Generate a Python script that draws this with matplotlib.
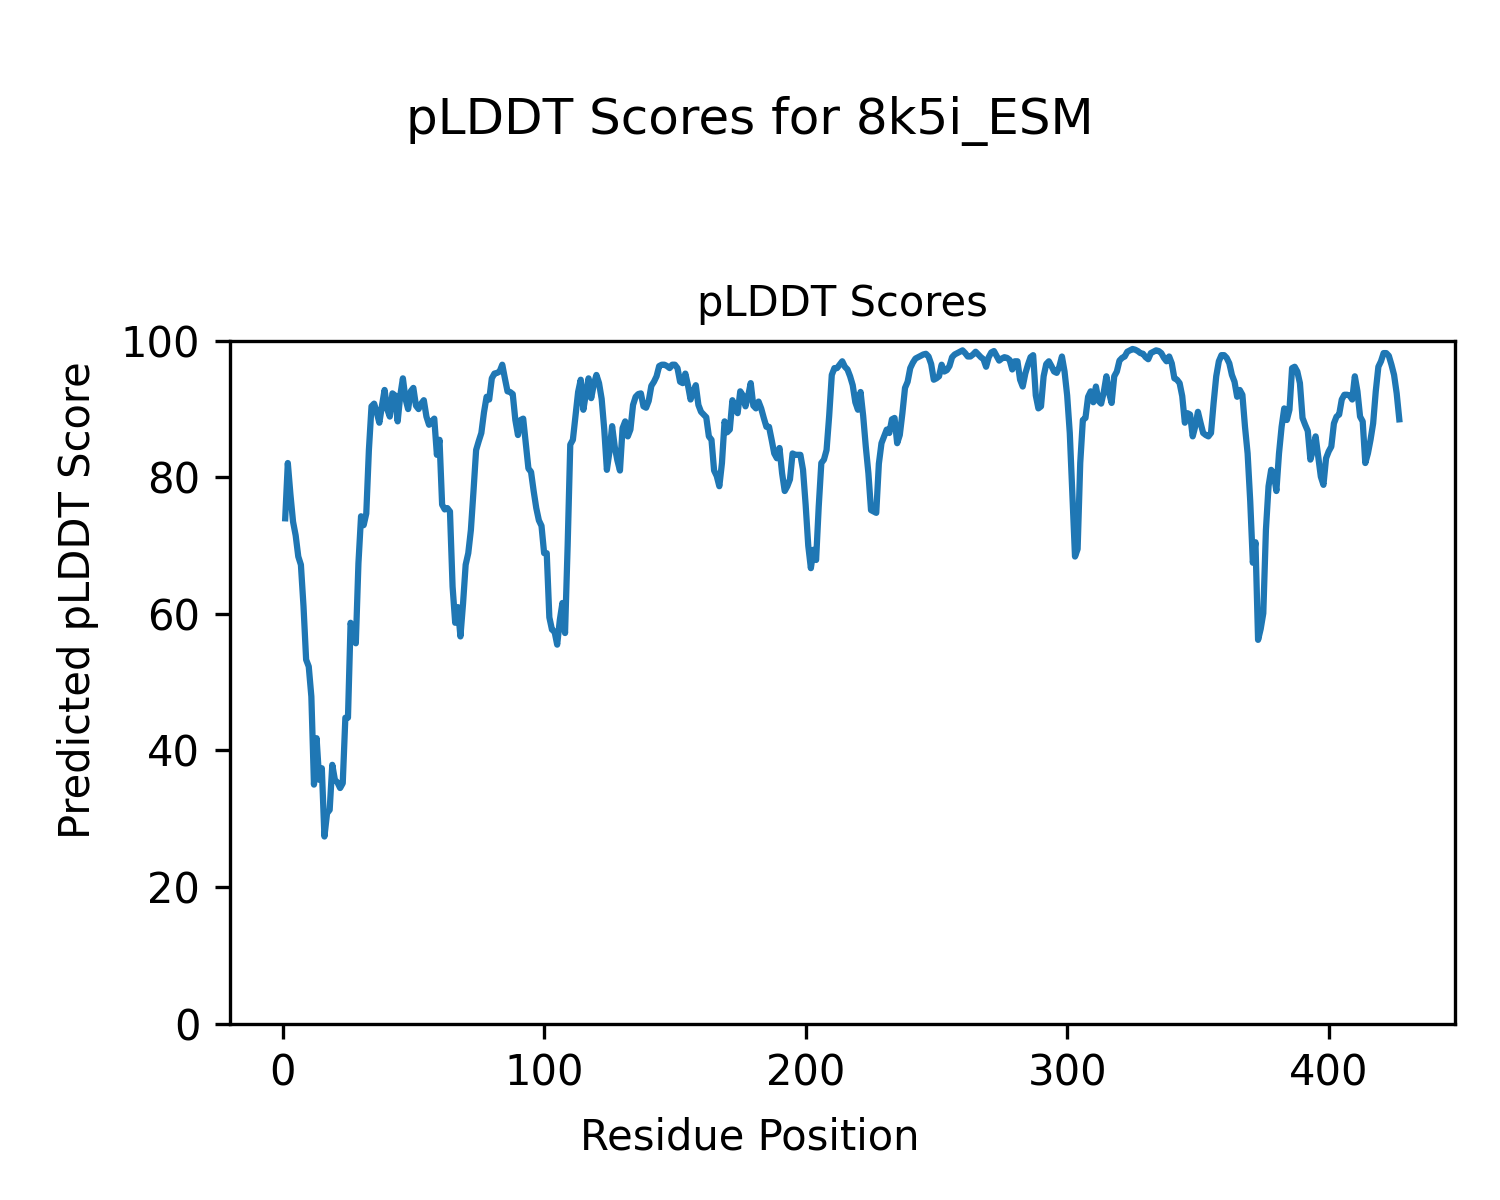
import numpy as np
import matplotlib
matplotlib.use("Agg")
import matplotlib.pyplot as plt

# --- DATA ---
PROTEIN_ID = "8k5i_ESM"

# per-residue pLDDT, residues 1..427
plddt = [
    74.0, 82.1, 77.5, 73.5, 71.5, 68.4, 67.2, 61.1, 53.3, 52.3,      # 1-10
    47.9, 35.0, 41.8, 35.7, 37.4, 27.4, 30.8, 31.3, 37.9, 35.7,      # 11-20
    35.3, 34.5, 35.2, 44.8, 44.8, 58.7, 57.0, 55.7, 67.4, 74.3,      # 21-30
    73.0, 74.7, 84.0, 90.4, 90.8, 89.5, 88.0, 90.5, 92.8, 90.0,      # 31-40
    88.9, 92.3, 92.0, 88.2, 92.0, 94.5, 91.5, 90.0, 92.6, 93.1,      # 41-50
    90.5, 90.0, 90.8, 91.3, 88.9, 87.7, 88.2, 88.6, 83.3, 85.5,      # 51-60
    76.0, 75.3, 75.5, 75.0, 64.0, 58.7, 61.0, 56.7, 61.5, 67.2,      # 61-70
    68.9, 72.3, 78.0, 84.0, 85.3, 86.5, 89.5, 91.8, 91.4, 94.5,      # 71-80
    95.2, 95.3, 95.5, 96.5, 94.5, 92.6, 92.5, 92.2, 88.4, 86.2,      # 81-90
    88.4, 88.6, 85.0, 81.3, 80.8, 78.0, 75.5, 73.7, 72.9, 68.9,      # 91-100
    68.9, 59.5, 57.7, 57.4, 55.5, 59.1, 61.6, 57.2, 70.0, 84.8,      # 101-110
    85.5, 89.0, 92.5, 94.3, 89.9, 92.3, 94.5, 91.6, 93.6, 95.0,      # 111-120
    93.8, 91.5, 87.0, 81.1, 83.8, 87.5, 84.5, 82.5, 81.0, 87.2,      # 121-130
    88.2, 86.0, 87.0, 90.6, 91.8, 92.2, 92.3, 90.4, 90.2, 91.2,      # 131-140
    93.4, 94.0, 94.8, 96.3, 96.5, 96.5, 96.3, 96.0, 96.5, 96.5,      # 141-150
    96.0, 94.0, 93.8, 95.2, 93.5, 91.4, 92.5, 93.5, 90.6, 89.6,      # 151-160
    89.2, 88.8, 86.0, 85.5, 81.0, 80.2, 78.7, 82.1, 88.2, 86.6,      # 161-170
    87.0, 91.3, 90.2, 89.4, 92.6, 92.0, 90.4, 91.9, 93.8, 90.5,      # 171-180
    90.1, 91.1, 90.1, 88.7, 87.4, 87.4, 85.5, 83.5, 82.8, 84.3,      # 181-190
    80.6, 78.0, 78.7, 79.7, 83.5, 83.3, 83.3, 83.3, 81.1, 76.0,      # 191-200
    70.0, 66.7, 69.4, 67.9, 75.7, 82.1, 82.6, 84.0, 89.0, 95.0,      # 201-210
    96.0, 96.0, 96.5, 97.0, 96.2, 95.8, 94.8, 93.5, 91.0, 89.9,      # 211-220
    92.5, 89.0, 84.5, 80.6, 75.2, 75.0, 74.8, 82.0, 85.0, 86.0,      # 221-230
    87.0, 86.5, 88.5, 88.7, 85.0, 86.2, 89.4, 93.1, 94.0, 96.0,      # 231-240
    96.8, 97.4, 97.6, 97.8, 98.0, 98.1, 97.7, 96.6, 94.3, 94.5,      # 241-250
    94.8, 96.5, 95.5, 95.7, 96.3, 97.6, 98.0, 98.2, 98.4, 98.6,      # 251-260
    98.2, 97.7, 97.7, 98.0, 98.4, 98.0, 97.6, 97.3, 96.2, 97.6,      # 261-270
    98.3, 98.5, 97.8, 97.1, 97.4, 97.6, 97.5, 97.2, 95.8, 97.0,      # 271-280
    97.0, 94.3, 93.3, 95.2, 96.5, 97.6, 97.9, 92.0, 90.1, 90.4,      # 281-290
    94.8, 96.6, 97.0, 96.3, 95.5, 95.3, 96.2, 97.7, 95.5, 92.0,      # 291-300
    86.5, 77.5, 68.4, 69.5, 82.1, 88.4, 88.7, 91.8, 92.6, 91.0,      # 301-310
    93.3, 91.2, 90.8, 92.5, 94.8, 92.4, 90.9, 94.8, 95.5, 97.1,      # 311-320
    97.5, 97.7, 98.4, 98.6, 98.8, 98.7, 98.5, 98.2, 98.1, 97.6,      # 321-330
    97.3, 98.2, 98.4, 98.6, 98.5, 98.2, 97.5, 97.0, 97.7, 96.7,      # 331-340
    94.5, 94.3, 93.8, 91.9, 88.0, 89.4, 89.2, 86.0, 87.5, 89.6,      # 341-350
    88.0, 86.5, 86.2, 86.0, 86.5, 90.9, 94.8, 97.0, 97.9, 97.9,      # 351-360
    97.5, 96.7, 95.0, 94.0, 91.8, 92.8, 92.1, 87.4, 83.5, 76.5,      # 361-370
    67.5, 70.5, 56.2, 57.8, 60.1, 72.3, 78.7, 81.1, 80.6, 78.0,      # 371-380
    83.5, 87.4, 90.1, 88.4, 89.9, 96.0, 96.2, 95.5, 93.8, 88.7,      # 381-390
    87.7, 86.8, 82.6, 84.0, 86.0, 83.1, 80.1, 78.9, 82.8, 83.8,      # 391-400
    84.5, 87.9, 88.9, 89.2, 91.4, 92.1, 92.1, 92.0, 91.4, 94.8,      # 401-410
    92.6, 88.9, 88.2, 82.1, 83.5, 85.5, 87.9, 92.6, 96.2, 97.0,      # 411-420
    98.2, 98.2, 97.8, 96.5, 95.0, 92.3, 88.5,                        # 421-427
]
residues = np.arange(1, len(plddt) + 1)

# --- PLOT ---
fig = plt.figure(figsize=(5, 4), dpi=300)
fig.suptitle(f"pLDDT Scores for {PROTEIN_ID}", fontsize=12, y=0.92)

ax = fig.add_subplot(1, 1, 1)
ax.plot(residues, plddt, color="#1f77b4", linewidth=1.5)
ax.set_title("pLDDT Scores", fontsize=10)
ax.set_ylim(0, 100)
ax.set_xticks([0, 100, 200, 300, 400])
ax.set_yticks([0, 20, 40, 60, 80, 100])

# axis labels sit on the figure, not the axes
fig.supxlabel("Residue Position", fontsize=10, x=0.5, y=0.052, va="center")
fig.supylabel("Predicted pLDDT Score", fontsize=10, x=0.052, y=0.5, ha="center")

fig.subplots_adjust(left=0.153, right=0.97, bottom=0.147, top=0.716)
fig.savefig("out.png", dpi=300)
